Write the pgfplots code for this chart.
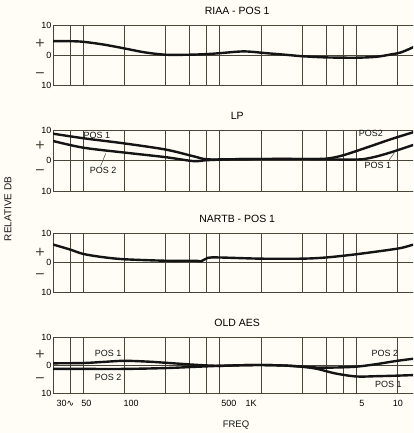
\documentclass[border=0pt]{standalone}
\usepackage{pgfplots}
\pgfplotsset{compat=1.18}
\usepackage{fontspec}
\setmainfont{Liberation Sans}
\newfontfamily\dejavu{DejaVu Sans}

\definecolor{paper}{HTML}{FFFDF6}
\definecolor{rulec}{HTML}{4A4538}
\definecolor{ink}{HTML}{141414}

% settings shared by all four panels
\pgfplotsset{
  scale only axis, width=368.4pt,
  xmin=30, xmax=15000, ymin=-10, ymax=10,
  xtick={40,50,100,200,300,400,500,1000,2000,3000,4000,5000,10000},
  xticklabels={},
  ytick={-10,0,10}, yticklabels={10,0,10},
  xmajorgrids, ymajorgrids,
  major tick length=0pt, minor tick length=0pt,
  grid style={rulec, line width=0.7pt},
  axis line style={rulec, line width=0.9pt},
  yticklabel style={font=\fontsize{9}{9}\selectfont, inner sep=1.5pt},
  title style={font=\fontsize{10.5}{12}\selectfont, yshift=1pt},
  clip mode=individual,
}
\tikzset{
  curve/.style={ink, line width=2.4pt, smooth},
  pmsign/.style={font=\fontsize{16}{16}\selectfont, text=rulec, inner sep=0pt, xshift=-13pt},
  poslab/.style={font=\fontsize{9}{9}\selectfont, text=ink, inner sep=1pt},
}
\newcommand{\minussign}{\symbol{"2212}}

\begin{document}
\begin{tikzpicture}
\useasboundingbox (0,0) rectangle (413pt,-433pt);
\clip (0,0) rectangle (413pt,-433pt);
\fill[paper] (0,0) rectangle (413pt,-433pt);

% RIAA
\begin{semilogxaxis}[at={(53pt,-25pt)}, anchor=north west, height=60pt,
  title={RIAA - POS 1}]
  \addplot[curve] coordinates {(30,4.6) (40,4.6) (50,4.4) (70,3.5) (100,2.2) (140,0.9)
    (200,0.1) (300,0.1) (400,0.3) (500,0.6) (750,1.2) (1100,0.6) (1500,0.1)
    (2000,-0.4) (3000,-0.8) (5000,-0.9) (7000,-0.6) (9000,0.2) (10500,0.8)
    (12500,2.2) (15000,4)};
  \node[pmsign] at (rel axis cs:0,0.685) {+};
  \node[pmsign] at (rel axis cs:0,0.15) {\minussign};
\end{semilogxaxis}

% LP
\begin{semilogxaxis}[at={(53pt,-130pt)}, anchor=north west, height=61pt,
  title={LP}]
  \addplot[curve] coordinates {(30,8.8) (50,7.3) (100,5.6) (200,3.6) (320,1.4) (400,0.4)
    (600,0.4) (1000,0.5) (2000,0.5) (3000,0.4) (4000,0.3) (5500,0.4) (7000,1.3)
    (9000,2.7) (12500,4.8) (15000,6)};
  \addplot[curve] coordinates {(30,6.4) (50,4.2) (100,2.6) (200,1.1) (320,-0.2) (400,0.1)
    (600,0.4) (1000,0.5) (2000,0.5) (3000,0.6) (4000,1.7) (6000,4.3) (9000,7)
    (12500,9) (15000,10)};
  \node[pmsign] at (rel axis cs:0,0.735) {+};
  \node[pmsign] at (rel axis cs:0,0.305) {\minussign};
  \node[poslab] at (axis cs:63,8.3) {POS 1};
  \node[poslab] at (axis cs:70,-3.4) {POS 2};
  \draw[rulec, line width=0.5pt] (axis cs:67,-1.8) -- (axis cs:73,2.3);
  \node[poslab] at (axis cs:6400,9) {POS2};
  \node[poslab] at (axis cs:7200,-1.7) {POS 1};
  \draw[rulec, line width=0.5pt] (axis cs:8700,0.2) -- (axis cs:9500,2.5);
\end{semilogxaxis}

% NARTB
\begin{semilogxaxis}[at={(53pt,-233pt)}, anchor=north west, height=59pt,
  title={NARTB - POS 1}]
  \addplot[curve] coordinates {(30,6.1) (40,4.4) (50,2.9) (70,1.8) (100,1.1) (200,0.6)
    (330,0.6) (365,0.4) (410,1.6) (500,1.7) (1000,1.3) (2000,1.3) (3000,1.7)
    (5000,2.8) (10000,4.7) (12500,5.8) (15000,6.8)};
  \node[pmsign] at (rel axis cs:0,0.67) {+};
  \node[pmsign] at (rel axis cs:0,0.27) {\minussign};
\end{semilogxaxis}

% OLD AES
\begin{semilogxaxis}[at={(53pt,-337pt)}, anchor=north west, height=56pt,
  title={OLD AES},
  extra x ticks={37,52.7,112,584,847,5500,10100},
  extra x tick labels={30{\dejavu ∿},50,100,500,1K,5,10},
  extra x tick style={grid=none, major tick length=0pt},
  xticklabel style={font=\fontsize{9}{9}\selectfont, yshift=-4pt}]
  \addplot[curve] coordinates {(30,0.6) (50,0.7) (70,1.1) (100,1.5) (150,1.2) (200,0.8)
    (350,0) (500,-0.3) (700,-0.1) (1000,0) (1500,-0.2) (2000,-0.6) (2600,-1.4)
    (3500,-3) (5000,-4.1) (7000,-4) (10000,-3.8) (15000,-3.5)};
  \addplot[curve] coordinates {(30,-1.4) (50,-1.4) (100,-1.4) (200,-1.1) (350,-0.6)
    (500,-0.3) (700,-0.1) (1000,0) (1500,-0.2) (2000,-0.6) (2600,-0.9) (3500,-0.9)
    (5000,-0.6) (7000,0.3) (10000,1.5) (15000,2.6)};
  \node[pmsign] at (rel axis cs:0,0.68) {+};
  \node[pmsign] at (rel axis cs:0,0.23) {\minussign};
  \node[poslab] at (axis cs:76,4.3) {POS 1};
  \node[poslab] at (axis cs:76,-4.6) {POS 2};
  \node[poslab] at (axis cs:8100,4.3) {POS 2};
  \node[poslab] at (axis cs:8600,-7.1) {POS 1};
\end{semilogxaxis}

\node[font=\fontsize{10}{10}\selectfont, rotate=90, text=ink] at (8pt,-209pt) {RELATIVE DB};
\node[font=\fontsize{9.5}{10}\selectfont, text=ink] at (236pt,-425pt) {FREQ};
\end{tikzpicture}
\end{document}
